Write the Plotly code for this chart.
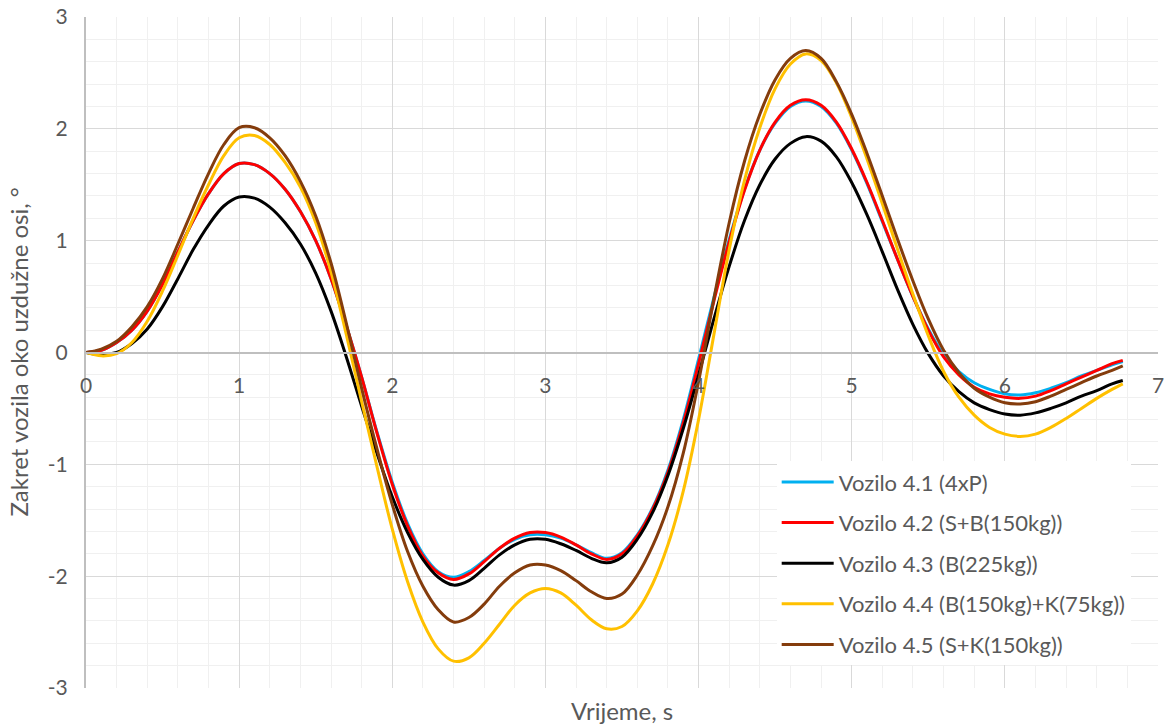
import plotly.graph_objects as go

# time axis (s)
t = [0.0, 0.1, 0.2, 0.3, 0.4, 0.5, 0.6, 0.7, 0.8, 0.9,
     1.0, 1.1, 1.2, 1.3, 1.4, 1.5, 1.6, 1.7, 1.8, 1.9,
     2.0, 2.1, 2.2, 2.3, 2.4, 2.5, 2.6, 2.7, 2.8, 2.9,
     3.0, 3.1, 3.2, 3.3, 3.4, 3.5, 3.6, 3.7, 3.8, 3.9,
     4.0, 4.1, 4.2, 4.3, 4.4, 4.5, 4.6, 4.7, 4.8, 4.9,
     5.0, 5.1, 5.2, 5.3, 5.4, 5.5, 5.6, 5.7, 5.8, 5.9,
     6.0, 6.1, 6.2, 6.3, 6.4, 6.5, 6.6, 6.7, 6.77]

v41 = [0.0, 0.02, 0.09, 0.20, 0.37, 0.61, 0.90, 1.18, 1.42, 1.60,
       1.69, 1.68, 1.60, 1.46, 1.26, 1.00, 0.66, 0.24, -0.22, -0.71,
       -1.16, -1.53, -1.80, -1.96, -2.01, -1.96, -1.86, -1.75, -1.67, -1.63,
       -1.63, -1.66, -1.72, -1.79, -1.84, -1.79, -1.63, -1.39, -1.05, -0.60,
       -0.06, 0.49, 1.01, 1.46, 1.81, 2.05, 2.20, 2.25, 2.20, 2.05,
       1.81, 1.51, 1.17, 0.83, 0.50, 0.21, -0.02, -0.17, -0.27, -0.33,
       -0.37, -0.38, -0.36, -0.32, -0.27, -0.21, -0.16, -0.11, -0.08]

v42 = [0.0, 0.02, 0.09, 0.20, 0.37, 0.61, 0.90, 1.18, 1.42, 1.60,
       1.69, 1.68, 1.60, 1.46, 1.26, 1.00, 0.66, 0.24, -0.22, -0.72,
       -1.18, -1.55, -1.82, -1.97, -2.03, -1.98, -1.87, -1.75, -1.66, -1.61,
       -1.61, -1.65, -1.72, -1.80, -1.85, -1.80, -1.64, -1.40, -1.07, -0.63,
       -0.10, 0.46, 0.99, 1.45, 1.81, 2.06, 2.21, 2.26, 2.21, 2.06,
       1.82, 1.52, 1.18, 0.83, 0.50, 0.20, -0.04, -0.20, -0.31, -0.37,
       -0.40, -0.41, -0.39, -0.34, -0.28, -0.22, -0.16, -0.10, -0.07]

v43 = [0.0, -0.02, 0.00, 0.08, 0.21, 0.41, 0.66, 0.92, 1.14, 1.31,
       1.39, 1.38, 1.30, 1.16, 0.97, 0.71, 0.37, -0.04, -0.48, -0.90,
       -1.29, -1.61, -1.85, -2.01, -2.08, -2.04, -1.93, -1.81, -1.72, -1.67,
       -1.67, -1.71, -1.77, -1.84, -1.88, -1.83, -1.67, -1.43, -1.10, -0.68,
       -0.20, 0.30, 0.77, 1.18, 1.50, 1.73, 1.87, 1.93, 1.89, 1.75,
       1.52, 1.23, 0.90, 0.56, 0.25, -0.01, -0.21, -0.35, -0.45, -0.51,
       -0.55, -0.56, -0.54, -0.50, -0.45, -0.39, -0.34, -0.28, -0.25]

v44 = [0.0, -0.03, -0.01, 0.09, 0.28, 0.55, 0.87, 1.20, 1.50, 1.76,
       1.92, 1.94, 1.86, 1.70, 1.48, 1.16, 0.72, 0.16, -0.44, -1.02,
       -1.58, -2.05, -2.41, -2.65, -2.76, -2.73, -2.60, -2.43, -2.26, -2.15,
       -2.11, -2.15, -2.26, -2.39, -2.47, -2.45, -2.31, -2.07, -1.72, -1.24,
       -0.60, 0.16, 0.92, 1.54, 2.01, 2.36, 2.58, 2.67, 2.61, 2.41,
       2.10, 1.73, 1.33, 0.92, 0.52, 0.15, -0.17, -0.40, -0.56, -0.67,
       -0.73, -0.75, -0.73, -0.67, -0.59, -0.50, -0.41, -0.33, -0.28]

v45 = [0.0, 0.03, 0.10, 0.23, 0.41, 0.66, 0.97, 1.29, 1.60, 1.86,
       2.01, 2.01, 1.92, 1.76, 1.53, 1.22, 0.80, 0.26, -0.32, -0.86,
       -1.36, -1.78, -2.09, -2.30, -2.41, -2.37, -2.25, -2.09, -1.97, -1.90,
       -1.90, -1.95, -2.04, -2.14, -2.20, -2.16, -1.99, -1.73, -1.38, -0.90,
       -0.26, 0.48, 1.16, 1.71, 2.13, 2.44, 2.63, 2.70, 2.63, 2.42,
       2.13, 1.78, 1.40, 1.01, 0.64, 0.30, 0.02, -0.18, -0.32, -0.40,
       -0.45, -0.46, -0.44, -0.39, -0.33, -0.27, -0.21, -0.16, -0.12]

names = ["Vozilo 4.1 (4xP)", "Vozilo 4.2 (S+B(150kg))", "Vozilo 4.3 (B(225kg))",
         "Vozilo 4.4 (B(150kg)+K(75kg))", "Vozilo 4.5 (S+K(150kg))"]
series = [v41, v42, v43, v44, v45]
colors = ["#00B0F0", "#FF0000", "#000000", "#FFC000", "#843C0C"]

x_ticks = [0, 1, 2, 3, 4, 5, 6, 7]
x_tick_text = ["0", "1", "2", "3", "4", "5", "6", "7"]
y_ticks = [-3, -2, -1, 0, 1, 2, 3]
y_tick_text = ["-3", "-2", "-1", "0", "1", "2", "3"]

FONT = "Lato, 'Open Sans', sans-serif"
TXT = "#595959"

fig = go.Figure()
for i, (nm, vals, col) in enumerate(zip(names, series, colors)):
    fig.add_trace(go.Scatter(x=t, y=vals, name=nm, mode="lines",
                             line=dict(color=col, width=3, shape="spline", smoothing=1.0),
                             legendgroup=f"g{i}"))

fig.update_layout(
    width=1164, height=724,
    margin=dict(l=86, r=6, t=17, b=36, autoexpand=False),
    paper_bgcolor="white", plot_bgcolor="white",
    font=dict(family=FONT, size=21, color=TXT),
    showlegend=True,
    legend=dict(x=0.6443, y=0.338, xanchor="left", yanchor="top",
                bgcolor="white", borderwidth=0,
                font=dict(family=FONT, size=22, color=TXT),
                tracegroupgap=9, itemwidth=52),
    xaxis=dict(range=[0, 7], tickvals=x_ticks, ticktext=x_tick_text,
               showgrid=True, gridcolor="#d9d9d9", gridwidth=1,
               minor=dict(dtick=0.2, showgrid=True, gridcolor="#f0f0f0", gridwidth=1),
               showline=True, linecolor="#bfbfbf", linewidth=2,
               anchor="free", position=0.5, ticks="", zeroline=False,
               ticklabeloverflow="allow", automargin=False,
               tickfont=dict(size=21, color=TXT), ticklabelstandoff=14),
    yaxis=dict(range=[-3, 3], tickvals=y_ticks, ticktext=y_tick_text,
               showgrid=True, gridcolor="#d9d9d9", gridwidth=1,
               minor=dict(dtick=0.2, showgrid=True, gridcolor="#f0f0f0", gridwidth=1),
               showline=True, linecolor="#bfbfbf", linewidth=2,
               ticks="", zeroline=False, ticklabelstandoff=12,
               ticklabeloverflow="allow", automargin=False,
               tickfont=dict(size=21, color=TXT)),
    annotations=[
        dict(text="Zakret vozila oko uzdužne osi, °", xref="paper", yref="paper",
             x=-0.0634, y=0.5, xanchor="center", yanchor="middle", textangle=-90,
             showarrow=False, font=dict(family=FONT, size=24, color=TXT)),
        dict(text="Vrijeme, s", xref="paper", yref="paper",
             x=0.5, y=-0.033, xanchor="center", yanchor="middle",
             showarrow=False, font=dict(family=FONT, size=24, color=TXT)),
    ],
)

fig.write_html("out.html", config={"displayModeBar": False},
               post_script="document.body.style.margin='0';")
